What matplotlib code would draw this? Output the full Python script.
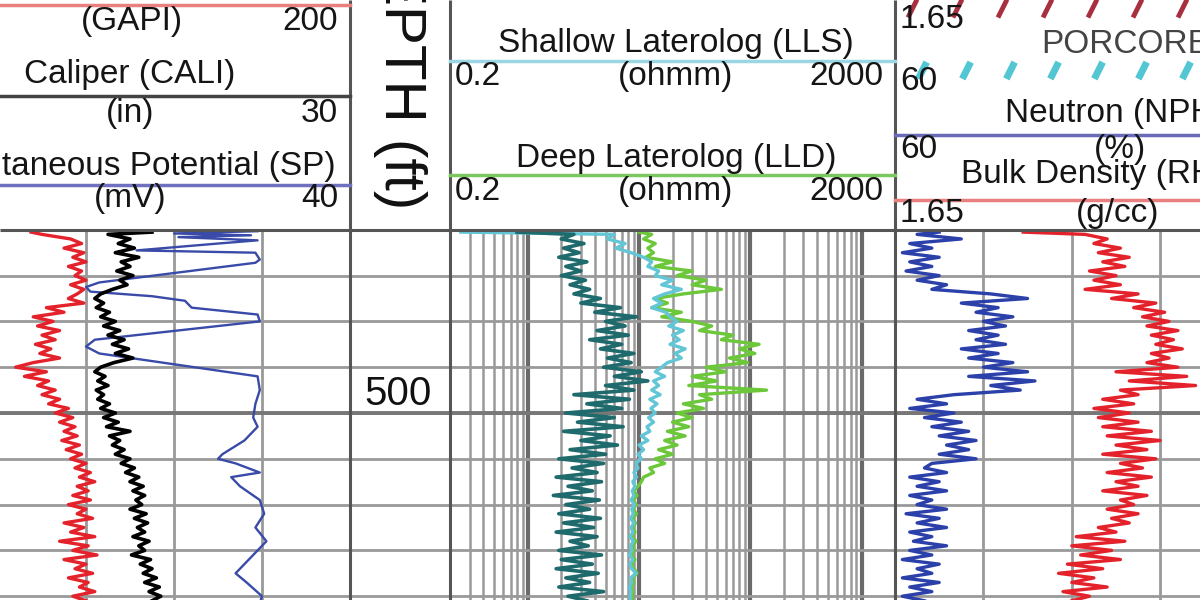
import numpy as np
import matplotlib.pyplot as plt
from matplotlib.ticker import FixedLocator, LogLocator, NullFormatter

plt.rcParams['font.family'] = ['Liberation Sans', 'DejaVu Sans']

# depth samples (ft) shared by the main curves
depth = [460.5] + list(range(461, 542))

# track 1
gr = [55,
      60, 73, 78, 70, 79, 74, 80, 72, 78, 75,
      80, 73, 79, 76, 72, 79, 62, 70, 56, 65,
      58, 68, 60, 66, 57, 64, 59, 68, 56, 48,
      62, 52, 63, 58, 66, 60, 68, 63, 72, 66,
      74, 68, 75, 70, 76, 69, 77, 71, 78, 73,
      80, 75, 82, 77, 84, 76, 81, 74, 82, 72,
      80, 76, 83, 70, 79, 73, 84, 68, 81, 74,
      85, 70, 80, 75, 83, 72, 81, 77, 84, 74,
      80]
cali = [16.5,
        13.5, 15.0, 14.2, 15.3, 14.0, 15.6, 14.4, 15.0, 14.1, 15.2,
        14.3, 14.8, 13.8, 13.0, 12.6, 13.2, 12.7, 13.6, 13.0, 14.0,
        13.2, 14.3, 13.5, 14.6, 13.8, 14.9, 14.0, 15.2, 13.9, 13.0,
        12.6, 13.3, 12.8, 13.5, 12.7, 13.2, 12.8, 13.6, 13.0, 14.0,
        13.2, 14.2, 13.4, 15.0, 13.6, 14.3, 13.8, 14.6, 14.0, 15.0,
        14.4, 15.3, 14.7, 15.6, 15.0, 15.9, 15.2, 16.0, 15.4, 15.8,
        15.0, 16.1, 15.3, 16.2, 15.5, 16.0, 15.2, 16.3, 15.6, 16.0,
        15.1, 16.4, 15.7, 16.5, 15.9, 16.8, 16.0, 17.0, 16.3, 17.1,
        16.5]
sp_depth = [460.3, 460.8, 461.2, 461.6, 462.3, 463.0, 464.5, 465.0, 466.5, 467.2,
            471.5, 472.5, 473.5, 474.5, 475.5, 477.0, 478.5, 480.0, 484.0, 485.5,
            487.0, 492.0, 495, 498, 501, 503, 506, 509, 510, 511,
            513, 514, 516, 518, 519, 522, 525, 528, 531, 535,
            537, 540, 543]
sp = [-2, -40, -5, -38, -2, -20, -57, -3, -1, -3,
      -74, -80, -78, -50, -35, -32, -2, -1, -76, -80,
      -74, -2, -1, -3, -4, -2, -8, -18, -20, -12,
      -1, -14, -10, -4, -1, 1, -3, 2, -4, -12,
      -7, 0, -2]

# track 2 (ohmm)
rt_teal = [0.8,
           2.6, 2.0, 3.2, 2.1, 2.9, 1.9, 3.4, 2.2, 3.0, 2.0,
           3.3, 2.4, 3.6, 2.6, 4.5, 3.0, 6.8, 4.0, 9.5, 5.0,
           7.5, 4.2, 8.0, 3.6, 7.0, 4.5, 9.0, 5.2, 8.5, 4.8,
           10.5, 6.0, 12.0, 5.0, 9.0, 2.6, 8.2, 3.4, 7.0, 2.2,
           6.0, 2.8, 7.2, 2.1, 5.5, 3.0, 6.4, 2.4, 5.0, 1.9,
           4.8, 2.5, 4.2, 1.8, 4.6, 2.3, 3.8, 1.7, 4.4, 2.2,
           3.6, 1.9, 4.5, 2.1, 3.9, 1.8, 4.2, 2.4, 3.5, 1.9,
           4.6, 2.0, 3.8, 1.8, 4.3, 2.2, 3.6, 1.9, 4.8, 2.3,
           3.4]
lls = [0.25,
       6.0, 5.2, 7.5, 6.2, 8.5, 11.0, 13.0, 12.0, 15.0, 14.0,
       20.0, 16.0, 24.0, 17.0, 13.5, 16.0, 13.0, 17.5, 19.0, 22.0,
       18.5, 25.0, 20.0, 23.0, 19.0, 26.0, 21.0, 24.0, 18.0, 16.0,
       14.0, 17.0, 13.5, 15.0, 13.0, 15.5, 12.5, 14.5, 12.8, 14.0,
       12.2, 13.5, 11.8, 12.5, 10.5, 12.0, 10.0, 11.0, 9.8, 10.5,
       9.4, 9.8, 9.0, 9.5, 8.8, 9.2, 8.7, 9.0, 8.5, 9.1,
       8.6, 8.9, 8.4, 9.0, 8.5, 8.8, 8.3, 8.9, 8.4, 8.6,
       8.2, 8.8, 8.3, 8.6, 9.4, 8.4, 8.6, 8.2, 8.5, 8.3,
       8.4]
lld = [10.0,
       13.0, 11.0, 14.0, 12.0, 13.5, 11.5, 20.0, 14.0, 30.0, 22.0,
       40.0, 30.0, 55.0, 25.0, 14.0, 18.0, 13.0, 24.0, 16.0, 30.0,
       45.0, 35.0, 70.0, 55.0, 120.0, 80.0, 110.0, 65.0, 95.0, 40.0,
       60.0, 30.0, 50.0, 28.0, 140.0, 35.0, 45.0, 25.0, 38.0, 22.0,
       30.0, 20.0, 28.0, 18.0, 26.0, 17.0, 22.0, 15.0, 20.0, 14.0,
       17.0, 12.5, 13.5, 11.0, 10.5, 9.8, 9.0, 9.6, 8.9, 9.4,
       8.8, 9.5, 8.7, 9.3, 8.8, 9.2, 8.6, 9.4, 8.7, 9.0,
       8.5, 9.2, 8.6, 9.0, 9.6, 8.7, 9.0, 8.5, 8.9, 8.6,
       8.8]

# track 3
nphi = [54,
        57, 51, 58, 55, 59, 54, 58, 55, 58.5, 54,
        57, 53, 55, 47, 42, 51, 46, 49, 44, 48,
        45, 50, 46, 49, 45, 51, 46, 50, 44, 48,
        42, 50, 41, 47, 43, 52, 57, 53, 58, 52,
        56, 51, 55, 50, 54, 49, 53, 50, 54, 49,
        55, 56, 53, 58, 54, 57, 53, 58, 55, 57,
        53, 58.5, 54, 57, 53, 58, 55, 57.5, 53, 58,
        55, 59, 54, 57, 55, 59, 54, 58, 55, 59,
        56]
rhob = [1.94,
        2.08, 2.13, 2.10, 2.16, 2.11, 2.18, 2.12, 2.17, 2.09, 2.15,
        2.10, 2.16, 2.08, 2.20, 2.14, 2.24, 2.19, 2.26, 2.21, 2.27,
        2.22, 2.29, 2.23, 2.28, 2.24, 2.30, 2.23, 2.27, 2.22, 2.29,
        2.15, 2.31, 2.18, 2.33, 2.16, 2.20, 2.12, 2.19, 2.10, 2.18,
        2.11, 2.20, 2.12, 2.23, 2.13, 2.25, 2.15, 2.22, 2.12, 2.24,
        2.16, 2.21, 2.13, 2.23, 2.15, 2.20, 2.12, 2.22, 2.16, 2.19,
        2.13, 2.20, 2.14, 2.18, 2.11, 2.15, 2.06, 2.17, 2.05, 2.14,
        2.07, 2.16, 2.04, 2.12, 2.02, 2.10, 2.05, 2.13, 2.03, 2.09,
        2.05]

W, H = 1200, 600
fig = plt.figure(figsize=(12, 6), dpi=100)


def px_box(x0, x1, y0, y1):
    return [x0 / W, 1 - y1 / H, (x1 - x0) / W, (y1 - y0) / H]


top_px, bot_px = 231, 610
ft_px = 4.58
d_top = 500 - (413 - top_px) / ft_px
d_bot = 500 + (bot_px - 413) / ft_px
grid_c = '#999999'


def track(x0, x1):
    ax = fig.add_axes(px_box(x0, x1, top_px, bot_px))
    ax.set_ylim(d_bot, d_top)
    ax.set_yticks(range(470, 550, 10))
    ax.grid(axis='y', color=grid_c, lw=2.0)
    ax.axhline(500, color='#777777', lw=2.8)
    ax.tick_params(which='both', length=0, labelbottom=False, labelleft=False)
    for s in ax.spines.values():
        s.set_visible(False)
    return ax


def twin(ax, lo, hi):
    t = ax.twiny()
    t.set_xlim(lo, hi)
    t.tick_params(which='both', length=0, labeltop=False, labelbottom=False)
    for s in t.spines.values():
        s.set_visible(False)
    return t


# track 1: GR / CALI / SP
ax1 = track(-90, 350)
ax1.set_xlim(0, 200)
ax1.set_xticks([40, 80, 120, 160])
ax1.grid(axis='x', color=grid_c, lw=2.0)
t_sp = twin(ax1, -160, 40)
t_sp.plot(sp, sp_depth, color='#3a4aa8', lw=1.7)
t_cali = twin(ax1, 0, 30)
t_cali.plot(cali, depth, color='black', lw=2.6)
t_gr = twin(ax1, 0, 200)
t_gr.plot(gr, depth, color='#e3222b', lw=2.4)

# depth track
axd = track(350, 450)
axd.set_xlim(0, 1)
for d in range(450, 560, 50):
    if d_top < d < d_bot:
        axd.text(0.48, d, str(d), ha='center', va='bottom', fontsize=29,
                 color='#111111')

# track 2: resistivity
ax2 = track(450, 895)
ax2.set_xscale('log')
ax2.set_xlim(0.2, 2000)
ax2.xaxis.set_major_locator(FixedLocator([1, 10, 100, 1000]))
ax2.xaxis.set_minor_locator(LogLocator(base=10, subs=np.arange(2, 10)))
ax2.xaxis.set_minor_formatter(NullFormatter())
ax2.tick_params(which='both', length=0, labelbottom=False)
ax2.grid(axis='x', which='minor', color='#999999', lw=1.8)
ax2.grid(axis='x', which='major', color='#6a6a6a', lw=3.0)
ax2.plot(lls, depth, color='#62c6d6', lw=2.4, zorder=3)
ax2.plot(lld, depth, color='#6cc83a', lw=2.4, zorder=2)
ax2.plot(rt_teal, depth, color='#1e6a6c', lw=2.6, zorder=4)

# track 3: NPHI / RHOB
ax3 = track(895, 1337)
ax3.set_xlim(60, 0)
ax3.set_xticks([48, 36, 24, 12])
ax3.grid(axis='x', color=grid_c, lw=2.0)
ax3.plot(nphi, depth, color='#2c40aa', lw=2.4)
t_rhob = twin(ax3, 1.65, 2.65)
t_rhob.plot(rhob, depth, color='#e3222b', lw=2.4)

# header and track borders
ov = fig.add_axes([0, 0, 1, 1])
ov.set_xlim(0, W)
ov.set_ylim(H, 0)
ov.axis('off')
ov.vlines([350, 450, 895], 0, H, color='#555555', lw=2.2)
ov.hlines(230, 0, W, color='#555555', lw=2.2)

fs = 24
tc = '#151515'


def header(x0, x1, y_line, color, title, y_title, unit, y_unit, lo, hi,
           cx=None):
    cx = (x0 + x1) / 2 if cx is None else cx
    ov.plot([x0, x1], [y_line, y_line], color=color, lw=2.5)
    if title:
        ov.text(cx, y_title, title, ha='center', va='baseline', fontsize=fs,
                color=tc)
    ov.text(cx, y_unit, unit, ha='center', va='baseline', fontsize=fs,
            color=tc)
    if lo:
        ov.text(x0 + 5, y_unit, lo, ha='left', va='baseline', fontsize=fs,
                color=tc)
    if hi:
        ov.text(x1 - 12, y_unit, hi, ha='right', va='baseline', fontsize=fs,
                color=tc)


header(-90, 350, 5, '#e88080', None, 0, '(GAPI)', 30, '0', '200', cx=132)
header(-90, 350, 96, '#444444', 'Caliper (CALI)', 83, '(in)', 122, '0', '30',
       cx=130)
header(-90, 350, 185, '#7070c0', 'Spontaneous Potential (SP)', 175, '(mV)',
       207, '-160', '40', cx=130)
header(450, 895, 61, '#9ad6e4', 'Shallow Laterolog (LLS)', 52, '(ohmm)', 85,
       '0.2', '2000', cx=676)
header(450, 895, 175, '#7cc860', 'Deep Laterolog (LLD)', 167, '(ohmm)', 200,
       '0.2', '2000', cx=676)
header(895, 1337, 135, '#6a6ab8', 'Neutron (NPHI)', 122, '(%)', 158, '60', '0',
       cx=1120)
header(895, 1337, 200, '#e88080', 'Bulk Density (RHOB)', 183, '(g/cc)', 222,
       '1.65', '2.65', cx=1118)

# core-point header rows (marker lines instead of solid lines)
slash = [(-0.5, -1.0), (0.5, 1.0)]
red_x = np.arange(912, 1337, 45)
cyan_x = np.arange(922, 1337, 44)
ov.plot(red_x, [8] * len(red_x), ls='none', marker=slash, ms=13, mew=3.5,
        color='#a8303e')
ov.text(900, 28, '1.65', ha='left', va='baseline', fontsize=fs, color=tc)
ov.text(1126, 53, 'PORCORE', ha='center', va='baseline', fontsize=fs,
        color='#444444')
ov.plot(cyan_x, [70] * len(cyan_x), ls='none', marker=slash, ms=12, mew=5,
        color='#52c6d2')
ov.text(900, 90, '60', ha='left', va='baseline', fontsize=fs, color=tc)

# depth header, rotated
ov.text(400, 209, 'DEPTH (ft)', rotation=270, ha='center', va='bottom',
        fontsize=42, color='#111111')

fig.savefig('out.png', dpi=100)
